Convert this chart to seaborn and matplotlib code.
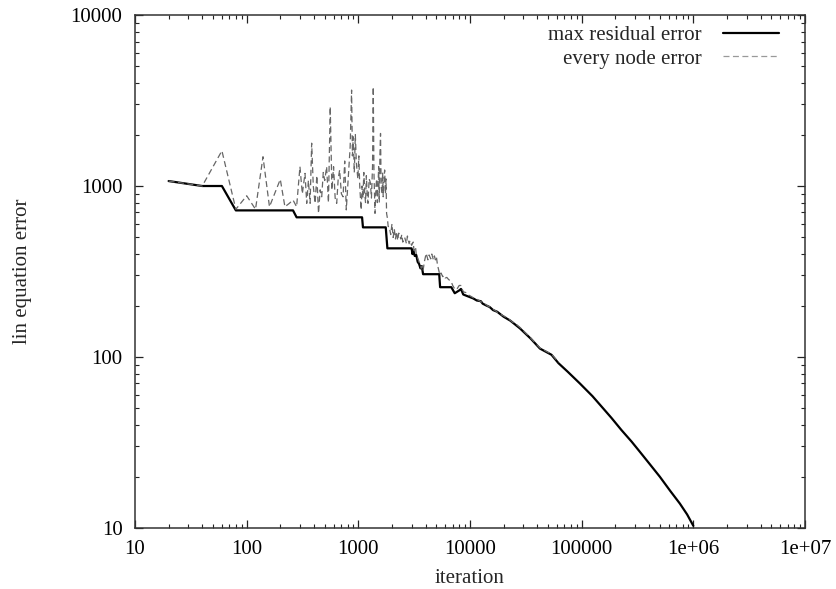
import matplotlib

matplotlib.use("Agg")

import matplotlib.pyplot as plt
import matplotlib.ticker as mticker
import pandas as pd
import seaborn as sns

# max residual error (solid, step-like)
max_iter = [20, 40, 60, 80, 260, 280, 1080, 1100, 1760, 1820,
            3000, 3050, 3100, 3200, 3300, 3400, 3500, 3600, 3700, 3800,
            5300, 5400, 6800, 7300, 8000, 8300, 8700, 9300, 10700, 11500,
            12500, 13000, 14000, 15000, 16100, 17500, 20000, 23000, 28000, 35000,
            42300, 53700, 62000, 75000, 96400, 125000, 156000, 185000, 227000, 280000,
            332000, 410000, 501000, 620000, 757000, 880000, 1000000]
max_err = [1069, 1000, 1000, 720, 720, 656, 656, 573, 573, 432,
           432, 400, 420, 390, 395, 360, 350, 330, 340, 305,
           305, 256, 256, 236, 245, 250, 232, 228, 220, 214,
           212, 205, 200, 196, 188, 184, 172, 163, 147, 128,
           112, 103, 92, 82, 70, 59, 50, 44, 37.4, 32,
           27.9, 23.5, 19.95, 16.5, 13.9, 12, 10.3]

# every node error (thin dashed)
node_iter = [20, 40, 60, 80, 100, 120, 140, 160, 200, 220,
             240, 260, 280, 290, 300, 315, 333, 345, 357, 370,
             382, 395, 410, 425, 440, 455, 470, 485, 500, 520,
             540, 560, 580, 600, 620, 640, 660, 680, 705, 730,
             755, 780, 800, 820, 845, 870, 885, 900, 920, 940,
             960, 990, 1010, 1030, 1060, 1080, 1100, 1120, 1140, 1160,
             1180, 1200, 1220, 1250, 1280, 1310, 1340, 1360, 1380, 1410,
             1440, 1460, 1480, 1500, 1520, 1540, 1560, 1580, 1600, 1630,
             1650, 1670, 1690, 1720, 1750, 1770, 1790, 1820, 1850, 1890,
             1950, 2000, 2050, 2100, 2150, 2200, 2250, 2300, 2400, 2450,
             2500, 2600, 2700, 2750, 2850, 2900, 3000, 3100, 3150, 3250,
             3300, 3400, 3500, 3600, 3650, 3750, 3800, 3900, 4050, 4200,
             4300, 4450, 4550, 4700, 4800, 4900, 5000, 5100, 5200, 5370,
             5500, 5700, 5850, 6000, 6200, 6400, 6600, 6800, 7000, 7300,
             7600, 7800, 8000, 8300, 8600, 8800, 9200, 9500, 10000, 10700,
             11500, 12000, 13000, 14000, 14500, 15200, 16100, 17000, 18000, 20000,
             22000, 24000, 26000, 28000, 35000, 42300, 53700, 62000]
node_err = [1069, 1000, 1607, 731, 877, 731, 1483, 756, 1094, 756,
            790, 828, 756, 990, 1297, 900, 1185, 792, 1077, 792,
            1780, 1000, 792, 1150, 692, 950, 865, 1200, 1077, 1297,
            800, 2912, 948, 1297, 850, 792, 1100, 1241, 900, 865,
            1400, 725, 950, 1241, 1700, 3640, 1500, 1940, 1200, 2000,
            1360, 1100, 1500, 990, 725, 1000, 850, 1200, 905, 800,
            1150, 900, 792, 1100, 1050, 850, 1300, 3800, 1200, 692,
            1000, 1100, 800, 990, 1300, 800, 1500, 2030, 1000, 900,
            1200, 865, 1000, 1241, 900, 1100, 692, 650, 580, 578,
            520, 600, 500, 560, 490, 540, 480, 530, 490, 520,
            470, 500, 460, 510, 460, 480, 450, 470, 420, 440,
            400, 380, 360, 345, 330, 340, 320, 360, 404, 370,
            395, 375, 400, 370, 390, 370, 386, 350, 330, 302,
            310, 295, 300, 290, 292, 285, 280, 275, 262, 250,
            248, 255, 262, 262, 245, 240, 238, 232, 228, 222,
            218, 214, 208, 202, 198, 196, 190, 186, 180, 174,
            168, 160, 155, 149, 129, 113, 104, 93]

x_ticks = [10, 100, 1000, 10000, 100000, 1e6, 1e7]
x_tick_labels = ["10", "100", "1000", "10000", "100000", "1e+06", "1e+07"]
y_ticks = [10, 100, 1000, 10000]
y_tick_labels = ["10", "100", "1000", "10000"]

sns.set_theme(style="ticks")
plt.rcParams["font.family"] = ["Liberation Serif", "DejaVu Serif"]
plt.rcParams["lines.scale_dashes"] = False

df_max = pd.DataFrame({"iteration": max_iter, "error": max_err})
df_node = pd.DataFrame({"iteration": node_iter, "error": node_err})

fig = plt.figure(figsize=(8.36, 5.89), dpi=100)
ax = fig.add_axes([0.1615, 0.1036, 0.8014, 0.8709])

sns.lineplot(data=df_max, x="iteration", y="error", ax=ax, color="black",
             linewidth=1.6, estimator=None, label="max residual error")
sns.lineplot(data=df_node, x="iteration", y="error", ax=ax, color="#666666",
             linewidth=0.9, estimator=None, label="every node error")
ax.lines[-1].set_dashes((4.3, 2.5))

ax.set_xscale("log")
ax.set_yscale("log")
ax.set_xlim(10, 1e7)
ax.set_ylim(10, 10000)

ax.xaxis.set_major_locator(mticker.FixedLocator(x_ticks))
ax.xaxis.set_major_formatter(mticker.FixedFormatter(x_tick_labels))
ax.yaxis.set_major_locator(mticker.FixedLocator(y_ticks))
ax.yaxis.set_major_formatter(mticker.FixedFormatter(y_tick_labels))
ax.xaxis.set_minor_locator(mticker.LogLocator(base=10, subs=range(2, 10)))
ax.yaxis.set_minor_locator(mticker.LogLocator(base=10, subs=range(2, 10)))
ax.xaxis.set_minor_formatter(mticker.NullFormatter())
ax.yaxis.set_minor_formatter(mticker.NullFormatter())

ax.tick_params(which="both", direction="in", top=True, right=True,
               colors="#222222", labelcolor="black", labelsize=15)
ax.tick_params(which="major", length=5.5, width=0.9)
ax.tick_params(which="minor", length=3, width=0.8)
ax.tick_params(axis="x", which="major", pad=9)
ax.tick_params(axis="y", which="major", pad=9)

for spine in ax.spines.values():
    spine.set_linewidth(1.1)
    spine.set_color("#333333")

ax.set_xlabel("iteration", fontsize=15, labelpad=7)
ax.set_ylabel("lin equation error", fontsize=15, labelpad=28)

leg = ax.legend(loc="upper right", bbox_to_anchor=(0.961, 0.98),
                frameon=False, markerfirst=False,
                fontsize=15, handlelength=2.7, handletextpad=1.0,
                labelspacing=0.2, borderaxespad=0.0, borderpad=0.0)
leg.get_lines()[1].set_color("#999999")

fig.savefig("out.png", dpi=100)
